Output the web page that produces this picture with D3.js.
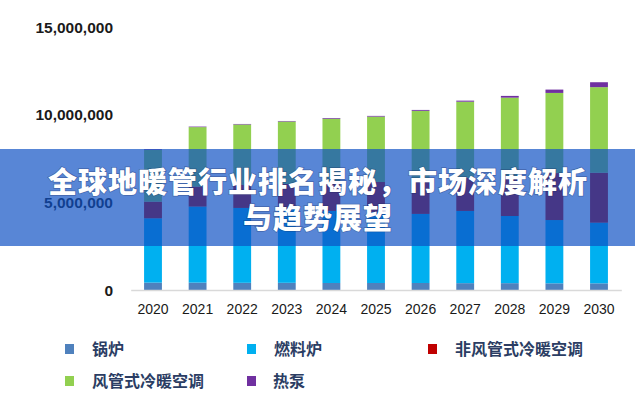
<!DOCTYPE html>
<html>
<head>
<meta charset="utf-8">
<script src="https://cdn.jsdelivr.net/npm/d3@7"></script>
<style>
html,body{margin:0;padding:0;background:#fff;}
svg{display:block;}
</style>
</head>
<body>
<svg id="chart" width="635" height="397"></svg>
<script>
// ---- data (values in units) ----
const years = ["2020","2021","2022","2023","2024","2025","2026","2027","2028","2029","2030"];
const seriesNames = ["锅炉","燃料炉","非风管式冷暖空调","风管式冷暖空调","热泵"];
const seriesColors = ["#4f81bd","#00b0f0","#c00000","#92d050","#7030a0"];
const boiler   = [420000,420000,410000,410000,400000,400000,400000,390000,390000,380000,380000];
const furnace  = [3670000,4340000,4270000,4210000,4110000,4050000,3940000,4120000,3830000,3610000,3460000];
const ductless = [950000,1140000,1310000,1430000,1590000,1710000,1930000,1880000,2280000,2680000,2850000];
const ducted   = [2950000,3390000,3450000,3560000,3670000,3730000,3950000,4350000,4470000,4570000,4880000];
const heatPump = [40000,30000,30000,30000,40000,40000,50000,60000,100000,190000,280000];
const yTicks = [0,5000000,10000000,15000000];
const titleLines = ["全球地暖管行业排名揭秘，市场深度解析","与趋势展望"];

const seriesValues = [boiler, furnace, ductless, ducted, heatPump];
const table = years.map((y,i)=>{
  const o = {year:y};
  seriesNames.forEach((s,k)=>{o[s]=seriesValues[k][i];});
  return o;
});

const svg = d3.select("#chart");
const x = d3.scaleBand().domain(years).range([130.7,621.3]).paddingInner(0.6).paddingOuter(0.3);
const y = d3.scaleLinear().domain([0,15000000]).range([290,27]);

// y tick labels
const fmt = d3.format(",");
svg.append("g").selectAll("text").data(yTicks).join("text")
  .attr("x",113).attr("y",d=>y(d)).attr("dy","0.36em")
  .attr("text-anchor","end")
  .attr("font-family","'Liberation Sans',Arial,sans-serif")
  .attr("font-weight","bold").attr("font-size",15.5)
  .attr("fill","#1a1a1a")
  .text(d=>fmt(d));

// stacked bars
const stack = d3.stack().keys(seriesNames)(table);
svg.append("g").selectAll("g").data(stack).join("g")
  .attr("fill",(d,i)=>seriesColors[i])
  .selectAll("rect").data(d=>d).join("rect")
  .attr("x",d=>x(d.data.year))
  .attr("width",x.bandwidth())
  .attr("y",d=>y(d[1]))
  .attr("height",d=>y(d[0])-y(d[1]));

// x axis
const xAxis = svg.append("g").attr("transform","translate(0,290)")
  .call(d3.axisBottom(x).tickSize(0).tickPadding(14));
xAxis.select(".domain").attr("stroke","#d9d9d9").attr("stroke-width",1.5);
xAxis.selectAll("text")
  .attr("font-family","'Liberation Sans',Arial,sans-serif")
  .attr("font-size",14).attr("fill","#1a1a1a");

// legend
const legendPos = [[65,349],[247,349],[428,349],[65,381],[247,381]];
const lg = svg.append("g").selectAll("g").data(seriesNames).join("g")
  .attr("transform",(d,i)=>`translate(${legendPos[i][0]},${legendPos[i][1]})`);
lg.append("rect").attr("x",0).attr("y",-5).attr("width",9).attr("height",10)
  .attr("fill",(d,i)=>seriesColors[i]);
lg.append("text").attr("x",(d,i)=>i===4?26:27).attr("y",0).attr("dy","0.36em")
  .attr("font-family","'Noto Sans CJK SC',sans-serif")
  .attr("font-weight","bold").attr("font-size",16)
  .attr("fill","#2b3d63")
  .text(d=>d);

// overlay band
svg.append("rect").attr("x",0).attr("y",149).attr("width",635).attr("height",97)
  .attr("fill","rgb(13,80,196)").attr("fill-opacity",0.69);

// title
svg.append("g").selectAll("text").data(titleLines).join("text")
  .attr("x",318).attr("y",(d,i)=>183+i*36).attr("dy","0.36em")
  .attr("text-anchor","middle")
  .attr("font-family","'Noto Sans CJK SC',sans-serif")
  .attr("font-weight","900").attr("font-size",29)
  .attr("letter-spacing",1)
  .attr("fill","#ffffff")
  .style("paint-order","stroke")
  .attr("stroke","rgba(20,40,90,0.35)").attr("stroke-width",1.5)
  .text(d=>d);
</script>
</body>
</html>
